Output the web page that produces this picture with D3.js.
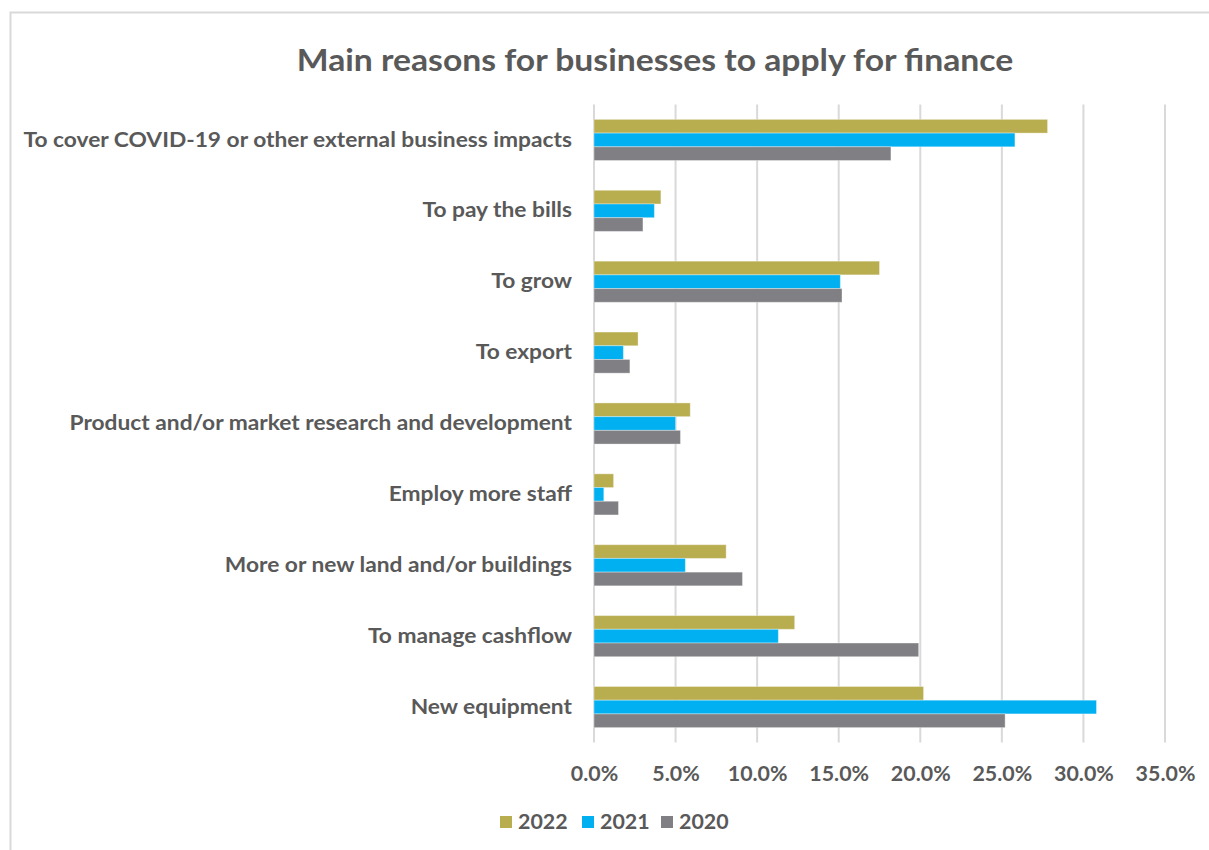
<!DOCTYPE html>
<html>
<head>
<meta charset="utf-8">
<script src="https://cdn.jsdelivr.net/npm/d3@7"></script>
<style>
  html, body { margin: 0; padding: 0; background: #fff; }
  svg { display: block; }
  text { font-family: Lato, "Open Sans", sans-serif; font-weight: 700; fill: #595959; }
</style>
</head>
<body>
<svg id="chart" width="1209" height="850"></svg>
<script>
// Reasons for applying for finance, share of businesses by survey year
const categories = [
  "To cover COVID-19 or other external business impacts",
  "To pay the bills",
  "To grow",
  "To export",
  "Product and/or market research and development",
  "Employ more staff",
  "More or new land and/or buildings",
  "To manage cashflow",
  "New equipment"
];
const seriesNames = ["2022", "2021", "2020"];
const values2022 = [27.8, 4.1, 17.5, 2.7, 5.9, 1.2, 8.1, 12.3, 20.2];
const values2021 = [25.8, 3.7, 15.1, 1.8, 5.0, 0.6, 5.6, 11.3, 30.8];
const values2020 = [18.2, 3.0, 15.2, 2.2, 5.3, 1.5, 9.1, 19.9, 25.2];
const xTicks = [0, 5, 10, 15, 20, 25, 30, 35];
const colors = ["#B8AD4F", "#00B0F0", "#808084"];

const seriesValues = [values2022, values2021, values2020];
const svg = d3.select("#chart");

// wide glyphs: stretch text horizontally
const stretchLabel = 1.11;
const stretchTitle = 1.087;
const stretchSmall = 1.07;

// outer chart frame
svg.append("rect")
  .attr("x", 10.5).attr("y", 12.5)
  .attr("width", 1260).attr("height", 900)
  .attr("fill", "none").attr("stroke", "#d9d9d9").attr("stroke-width", 2);

const plot = { left: 594, right: 1165, top: 104.5, bottom: 742.5 };

const x = d3.scaleLinear().domain([0, 35]).range([plot.left, plot.right]);
const y = d3.scaleBand().domain(categories).range([plot.top, plot.bottom]).paddingInner(0.42).paddingOuter(0.21);
const ySub = d3.scaleBand().domain(seriesNames).range([0, y.bandwidth()]);

// title
svg.append("g")
  .attr("transform", `translate(655,71) scale(${stretchTitle},1)`)
  .append("text")
  .attr("text-anchor", "middle")
  .style("font-size", "31px")
  .text("Main reasons for businesses to apply for finance");

// vertical gridlines
svg.append("g")
  .selectAll("line")
  .data(xTicks)
  .join("line")
  .attr("x1", d => x(d)).attr("x2", d => x(d))
  .attr("y1", plot.top).attr("y2", plot.bottom)
  .attr("stroke", "#d9d9d9").attr("stroke-width", 2);

// bars
const groups = svg.append("g")
  .selectAll("g")
  .data(categories)
  .join("g")
  .attr("transform", d => `translate(0,${y(d)})`);

groups.selectAll("rect")
  .data((d, i) => seriesNames.map((s, j) => ({ s, j, v: seriesValues[j][i] })))
  .join("rect")
  .attr("x", x(0))
  .attr("y", d => ySub(d.s))
  .attr("width", d => x(d.v) - x(0))
  .attr("height", ySub.bandwidth())
  .attr("fill", d => colors[d.j])
  .attr("stroke", "#ffffff").attr("stroke-opacity", 0.35).attr("stroke-width", 1);

// category axis labels
const yAxis = d3.axisLeft(y).tickSize(0).tickPadding(22);
const yg = svg.append("g").attr("transform", `translate(${plot.left},0)`).call(yAxis);
yg.select(".domain").remove();
yg.selectAll("text")
  .style("font-size", "20.5px")
  .style("font-family", "Lato, sans-serif")
  .attr("fill", "#595959")
  .attr("x", -22 / stretchLabel)
  .attr("transform", `scale(${stretchLabel},1)`);

// value axis labels
const xAxis = d3.axisBottom(x).tickValues(xTicks).tickSize(0).tickPadding(24)
  .tickFormat(d => d3.format(".1f")(d) + "%");
const xg = svg.append("g").attr("transform", `translate(0,${plot.bottom})`).call(xAxis);
xg.select(".domain").remove();
xg.selectAll("text")
  .style("font-size", "20px")
  .style("font-family", "Lato, sans-serif")
  .attr("fill", "#595959")
  .attr("transform", `scale(${stretchSmall},1)`);

// legend
const legendX = [500, 582, 661];
const legend = svg.append("g")
  .selectAll("g")
  .data(seriesNames)
  .join("g")
  .attr("transform", (d, i) => `translate(${legendX[i]},822)`);
legend.append("rect")
  .attr("x", 0).attr("y", -6).attr("width", 12).attr("height", 12)
  .attr("fill", (d, i) => colors[i]);
legend.append("text")
  .attr("x", 18 / stretchSmall).attr("y", 7)
  .attr("transform", `scale(${stretchSmall},1)`)
  .style("font-size", "20px")
  .text(d => d);
</script>
</body>
</html>
